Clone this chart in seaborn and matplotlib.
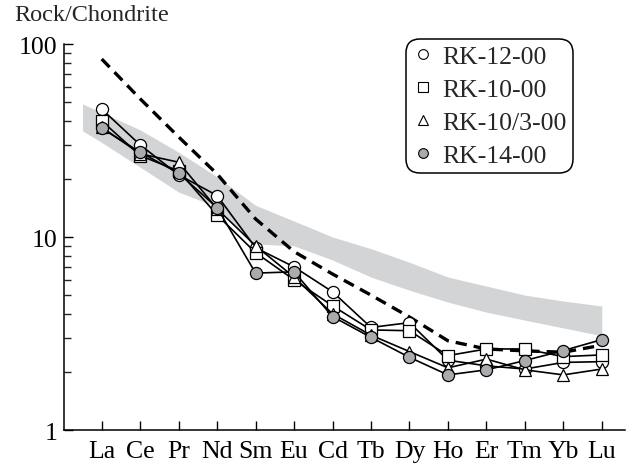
import numpy as np
import pandas as pd
import matplotlib
matplotlib.use("Agg")
import matplotlib.pyplot as plt
import seaborn as sns

elements = ["La", "Ce", "Pr", "Nd", "Sm", "Eu", "Cd", "Tb", "Dy", "Ho", "Er", "Tm", "Yb", "Lu"]

rk_12_00 = [46, 30, 21, 16.4, 8.8, 7.0, 5.2, 3.4, 3.6, 2.3, 2.15, 2.07, 2.24, 2.26]
rk_10_00 = [40, 26.4, 22, 13.0, 8.3, 6.0, 4.4, 3.3, 3.27, 2.43, 2.63, 2.63, 2.4, 2.45]
rk_10_3_00 = [37, 27, 24.4, 14, 9.0, 6.2, 4.0, 3.1, 2.55, 2.1, 2.33, 2.05, 1.93, 2.07]
rk_14_00 = [36.6, 27.5, 21.4, 14.2, 6.5, 6.6, 3.87, 3.02, 2.38, 1.93, 2.05, 2.29, 2.58, 2.94]

# dashed reference curve
dashed_ref = [83.6, 52, 33, 21.2, 12.4, 8.4, 6.43, 5.0, 3.85, 2.9, 2.63, 2.57, 2.53, 2.75]

# gray field (starts half a step left of La)
band_x = [-0.5, 0, 1, 2, 3, 4, 5, 6, 7, 8, 9, 10, 11, 12, 13]
band_upper = [48.9, 44.2, 35.9, 27.5, 20.5, 14.6, 12.1, 10.0, 8.7, 7.4, 6.2, 5.57, 5.0, 4.66, 4.39]
band_lower = [35.5, 30.9, 23.0, 17.1, 14.3, 9.2, 9.0, 7.6, 6.2, 5.3, 4.6, 4.08, 3.71, 3.38, 3.08]

sns.set_style("ticks")
plt.rcParams["font.family"] = ["Liberation Serif", "DejaVu Serif"]
FS = 18.5

fig = plt.figure(figsize=(6.37, 4.64), dpi=100)
ax = fig.add_axes([0.1005, 0.0711, 0.8805, 0.8319])

pos = np.arange(len(elements))

ax.fill_between(band_x, band_lower, band_upper, color="#d3d4d6", lw=0, zorder=1)

sns.lineplot(x=pos, y=dashed_ref, ax=ax, color="black", lw=2.4,
             dashes=False, linestyle=(0, (3.4, 2.1)), zorder=2)

series = [
    ("RK-12-00", rk_12_00, "o", "white"),
    ("RK-10-00", rk_10_00, "s", "white"),
    ("RK-10/3-00", rk_10_3_00, "^", "white"),
    ("RK-14-00", rk_14_00, "o", "#a9abae"),
]
for i, (name, vals, mk, fc) in enumerate(series):
    df = pd.DataFrame({"pos": pos, "val": vals})
    sns.lineplot(data=df, x="pos", y="val", ax=ax, color="black", lw=1.2,
                 marker=mk, markersize=8.7, markerfacecolor=fc,
                 markeredgecolor="black", markeredgewidth=0.9,
                 label=name, zorder=3 + i, legend=False)

ax.set_yscale("log")
ax.set_ylim(1, 100)
ax.set_xlim(-0.98, 13.6)
ax.set_xticks(pos)
ax.set_xticklabels(elements)
ax.set_yticks([1, 10, 100])
ax.set_yticklabels(["1", "10", "100"])
ax.set_xlabel("")
ax.set_ylabel("")
ax.tick_params(axis="both", which="major", direction="in", length=6.5, width=1.0,
               labelsize=FS, colors="black")
ax.tick_params(axis="y", which="minor", direction="in", length=4.8, width=1.0)
ax.tick_params(axis="x", which="minor", bottom=False)
ax.tick_params(axis="x", pad=7)
ax.tick_params(axis="y", pad=5)
sns.despine(ax=ax)
for s in ["left", "bottom"]:
    ax.spines[s].set_linewidth(1.1)
    ax.spines[s].set_color("black")

handles = [
    plt.Line2D([], [], ls="none", marker=mk, markersize=7, markerfacecolor=fc,
               markeredgecolor="black", markeredgewidth=0.8)
    for _, _, mk, fc in series
]
leg = ax.legend(handles, [s[0] for s in series], loc="upper right",
                bbox_to_anchor=(0.907, 1.013), borderaxespad=0, fontsize=FS,
                frameon=True, fancybox=True, handlelength=0.9, handletextpad=0.3,
                labelspacing=0.4, borderpad=0.22)
frame = leg.get_frame()
frame.set_edgecolor("black")
frame.set_linewidth(1.1)
frame.set_alpha(1)
frame.set_boxstyle("round", pad=0, rounding_size=0.55)

fig.text(0.022, 0.967, "Rock/Chondrite", fontsize=17.5, va="center", ha="left")

fig.savefig("out.png", dpi=100)
